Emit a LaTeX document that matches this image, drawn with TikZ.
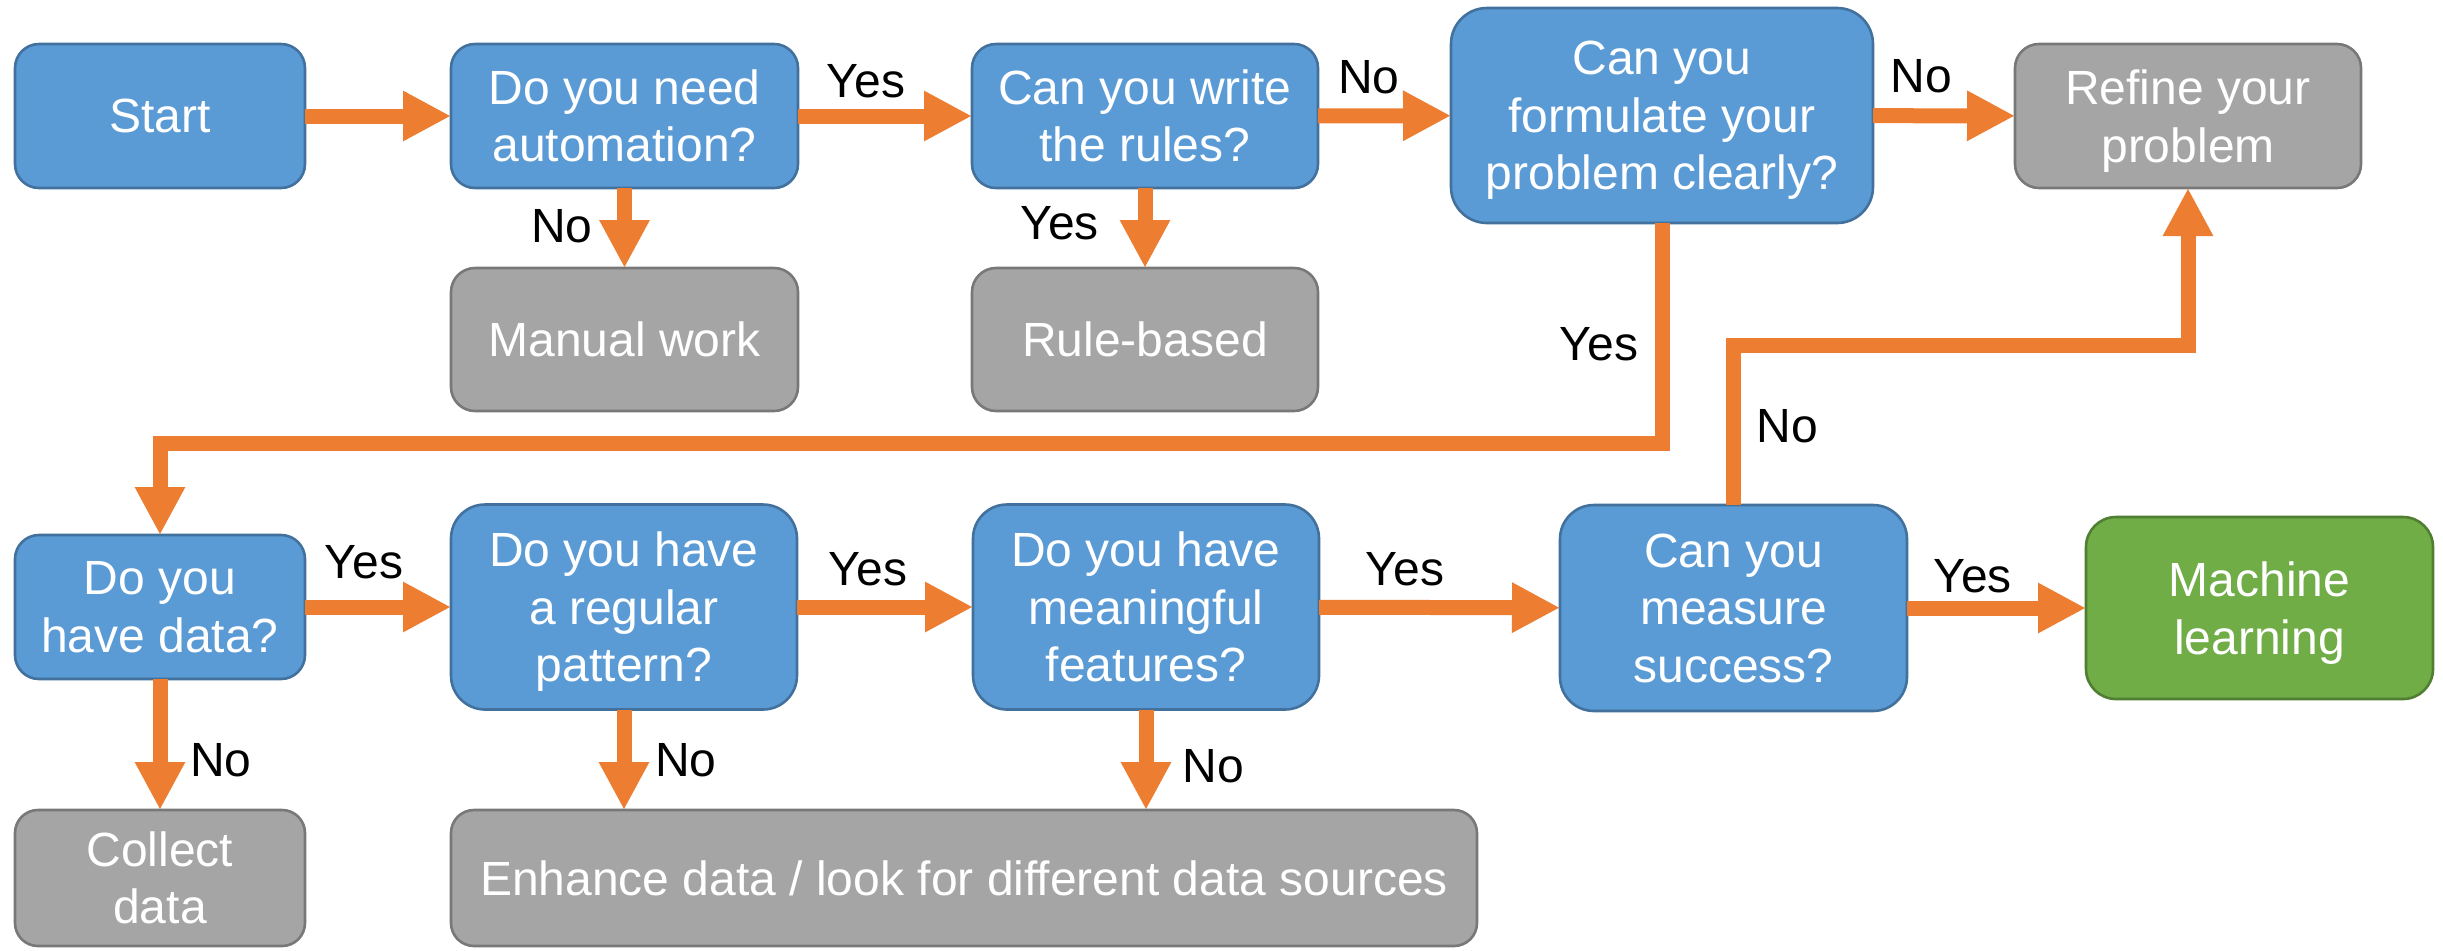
\documentclass[tikz,border=0pt]{standalone}
\usepackage{fontspec}
\setmainfont{Liberation Sans}
\usetikzlibrary{arrows.meta}
\definecolor{bfill}{HTML}{5B9BD5}
\definecolor{bline}{HTML}{41719C}
\definecolor{gfill}{HTML}{A5A5A5}
\definecolor{gline}{HTML}{787878}
\definecolor{nfill}{HTML}{70AD47}
\definecolor{nline}{HTML}{507E32}
\definecolor{orng}{HTML}{ED7D31}
\begin{document}
\begin{tikzpicture}[x=0.5pt,y=-0.5pt,
  box/.style={rectangle, line width=1.3pt, text=white, align=center, inner sep=0pt, outer sep=0pt,
    font=\fontsize{24}{28.75}\selectfont},
  qbox/.style={box, fill=bfill, draw=bline},
  gbox/.style={box, fill=gfill, draw=gline},
  mlbox/.style={box, fill=nfill, draw=nline},
  sz/.style n args={3}{minimum width=#1*0.5pt, minimum height=#2*0.5pt, rounded corners=#3},
  arr/.style={draw=orng, line width=7.5pt, line join=miter,
    -{Triangle[length=24pt,width=23.5pt]}},
  lbl/.style={anchor=base, inner sep=0pt, font=\fontsize{24}{28.75}\selectfont}]
\useasboundingbox[fill=white] (0,0) rectangle (2443,950);

% boxes
\node[qbox, sz={290}{144}{12pt}] (start) at (160,116) {Start};
\node[qbox, sz={347}{144}{12pt}] (need) at (624.5,116) {Do you need\\automation?};
\node[gbox, sz={347}{143}{12pt}] (manual) at (624.5,339.5) {Manual work};
\node[qbox, sz={346}{144}{12pt}] (write) at (1145,116) {Can you write\\the rules?};
\node[gbox, sz={346}{143}{12pt}] (rule) at (1145,339.5) {Rule-based};
\node[qbox, sz={422}{215}{18pt}] (formulate) at (1662,115.5) {Can you\\formulate your\\\smash{problem clearly?}};
\node[gbox, sz={346}{144}{12pt}] (refine) at (2188,116) {Refine your\\\smash{problem}};
\node[qbox, sz={290}{144}{12pt}] (data) at (160,607) {Do you\\have data?};
\node[qbox, sz={346}{205}{17pt}] (pattern) at (624,607) {Do you have\\a regular\\\smash{pattern?}};
\node[qbox, sz={346}{205}{17pt}] (features) at (1146,607) {Do you have\\meaningful\\features?};
\node[qbox, sz={347}{206}{17pt}] (measure) at (1733.5,608) {Can you\\measure\\success?};
\node[mlbox, sz={347}{182}{15pt}] (ml) at (2259.5,608) {Machine\\\smash{learning}};
\node[gbox, sz={290}{136}{11.5pt}] (collect) at (160,878) {Collect\\data};
\node[gbox, sz={1026}{136}{11.5pt}] (enhance) at (964,878) {Enhance data / look for different data sources};

% turning points
\coordinate (c1) at (160,443);
\coordinate (c2) at (2188,345);

% connectors
\draw[arr] (start) -- (need);
\draw[arr] (need) -- (write);
\draw[arr] (write) -- (formulate);
\draw[arr] (formulate) -- (refine);
\draw[arr] (need) -- (manual);
\draw[arr] (write) -- (rule);
\draw[arr] (formulate.south) |- (c1) -- (data.north);
\draw[arr] (data) -- (collect);
\draw[arr] (data) -- (pattern);
\draw[arr] (pattern.south) -- (pattern.south |- enhance.north);
\draw[arr] (pattern) -- (features);
\draw[arr] (features.south) -- (features.south |- enhance.north);
\draw[arr] (features) -- (measure);
\draw[arr] (measure) -- (ml);
\draw[arr] (measure.north) |- (c2) -- (refine.south);

% labels
\node[lbl] (l1) at (866,97) {Yes};
\node[lbl] (l2) at (562,242) {No};
\node[lbl] (l3) at (1059.5,239) {Yes};
\node[lbl] (l4) at (1369,93) {No};
\node[lbl] (l5) at (1921.5,92) {No};
\node[lbl] (l6) at (1599,360) {Yes};
\node[lbl] (l7) at (1787.5,442) {No};
\node[lbl] (l8) at (364,578) {Yes};
\node[lbl] (l9) at (221,776) {No};
\node[lbl] (l10) at (686,776) {No};
\node[lbl] (l11) at (868,585) {Yes};
\node[lbl] (l12) at (1213.5,782) {No};
\node[lbl] (l13) at (1405,585) {Yes};
\node[lbl] (l14) at (1972.5,592) {Yes};
\end{tikzpicture}
\end{document}
